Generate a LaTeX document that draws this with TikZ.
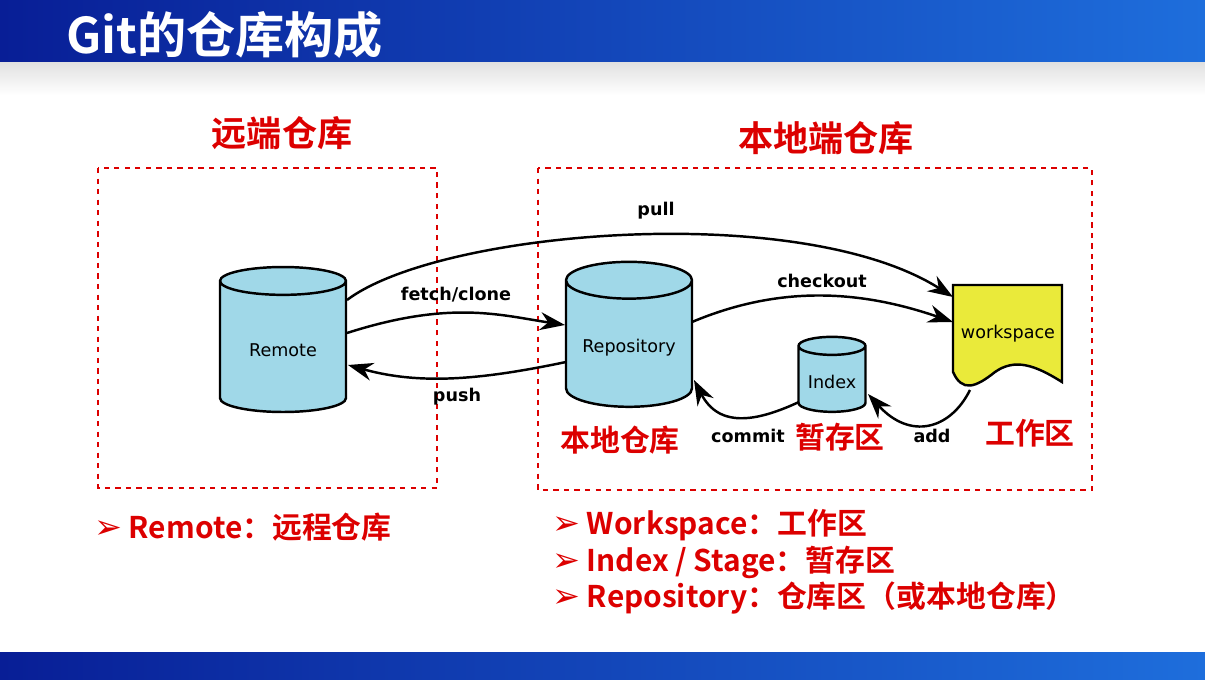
\documentclass[tikz,border=0pt]{standalone}
\usepackage{fontspec}
\setmainfont{DejaVu Sans}
\newfontfamily\cjk{Noto Sans CJK SC}[BoldFont={Noto Sans CJK SC Bold}]
\usetikzlibrary{shapes.geometric,arrows.meta}
\definecolor{cylblue}{RGB}{160,216,232}
\definecolor{wsyellow}{RGB}{234,234,58}
\definecolor{hdred}{RGB}{220,0,0}
\definecolor{hdblue}{RGB}{8,30,150}
\definecolor{hdlight}{RGB}{30,110,220}
\begin{document}
\begin{tikzpicture}[x=0.02cm,y=-0.02cm,
  store/.style={draw, line width=1.4pt, fill=cylblue, cylinder, shape border rotate=90, aspect=0.35, font=\fontsize{10}{12}\selectfont},
  flow/.style={line width=1.4pt, -{Stealth[length=5mm,width=3.6mm]}},
  flowlabel/.style={font=\bfseries\fontsize{10}{12}\selectfont},
  redlabel/.style={text=hdred, font=\cjk\bfseries\fontsize{17}{20}\selectfont},
  redhead/.style={text=hdred, font=\cjk\bfseries\fontsize{20}{24}\selectfont},
  box/.style={draw=hdred, thick, dashed},
  bullet/.style={anchor=west, text=hdred, font=\cjk\bfseries\fontsize{17}{20}\selectfont}]

\useasboundingbox (0,0) rectangle (1205,680);
% header and footer
\shade[left color=hdblue, right color=hdlight] (0,0) rectangle (1205,62);
\shade[top color=black!12, bottom color=white] (0,62) rectangle (1205,95);
\shade[left color=hdblue, right color=hdlight] (0,652) rectangle (1205,680);
\node[anchor=west, text=white, font=\cjk\bfseries\fontsize{28}{32}\selectfont] (title) at (60,35) {Git的仓库构成};

% regions
\node[redhead] (remhead) at (282,133) {远端仓库};
\node[redhead] (lochead) at (826,138) {本地端仓库};
\draw[box] (98,168) rectangle (437,488);
\draw[box] (538,168) rectangle (1092,490);

% stores
\node[store, minimum width=2.52cm, minimum height=2.9cm] (remote) at (283,350) {Remote};
\node[store, minimum width=2.52cm, minimum height=2.9cm] (repo) at (629,348) {Repository};
\node[store, minimum width=1.34cm, minimum height=1.5cm, aspect=0.3] (index) at (832,382) {Index};

% workspace
\draw[line width=1.4pt, fill=wsyellow] (953,285) -- (1062,285) -- (1062,382)
  .. controls (1035,365) and (1015,358) .. (995,372)
  .. controls (975,388) and (962,392) .. (953,372) -- cycle;
\node[font=\fontsize{10}{12}\selectfont] (ws) at (1008,334) {workspace};
\coordinate (wspull) at (953,297);
\coordinate (wscheck) at (953,322);
\coordinate (wsadd) at (970,390);

% connectors
\coordinate (rp) at (347,300);
\coordinate (rf) at (347,333);
\coordinate (pp) at (566,362);
\coordinate (rc) at (692,322);
\coordinate (ic) at (799,402);
\draw[flow] (rp) .. controls (440,230) and (800,200) .. (wspull);
\draw[flow] (rf) .. controls (450,300) and (500,315) .. (565,325);
\draw[flow] (pp) .. controls (480,380) and (420,385) .. (348,365);
\draw[flow] (rc) .. controls (780,285) and (860,290) .. (wscheck);
\draw[flow] (ic) .. controls (760,420) and (720,430) .. (694,380);
\draw[flow] (wsadd) .. controls (950,430) and (910,440) .. (868,394);
\node[flowlabel] (pull) at (656,211) {pull};
\node[flowlabel] (fetch) at (456,295) {fetch/clone};
\node[flowlabel] (push) at (457,397) {push};
\node[flowlabel] (checkout) at (822,281) {checkout};
\node[flowlabel] (commit) at (748,436) {commit};
\node[flowlabel] (add) at (932,436) {add};
\node[redlabel] (replabel) at (620,440) {本地仓库};
\node[redlabel] (idxlabel) at (840,437) {暂存区};
\node[redlabel] (wslabel) at (1030,433) {工作区};

% bullets
\node[bullet] (b1) at (88,527) {{\rmfamily\fontsize{19}{20}\selectfont ➢} Remote：远程仓库};
\node[bullet] (b2) at (546,525) {{\rmfamily\fontsize{19}{20}\selectfont ➢} Workspace：工作区};
\node[bullet] (b3) at (546,562) {{\rmfamily\fontsize{19}{20}\selectfont ➢} Index / Stage：暂存区};
\node[bullet] (b4) at (546,598) {{\rmfamily\fontsize{19}{20}\selectfont ➢} Repository：仓库区（或本地仓库）};
\end{tikzpicture}
\end{document}
